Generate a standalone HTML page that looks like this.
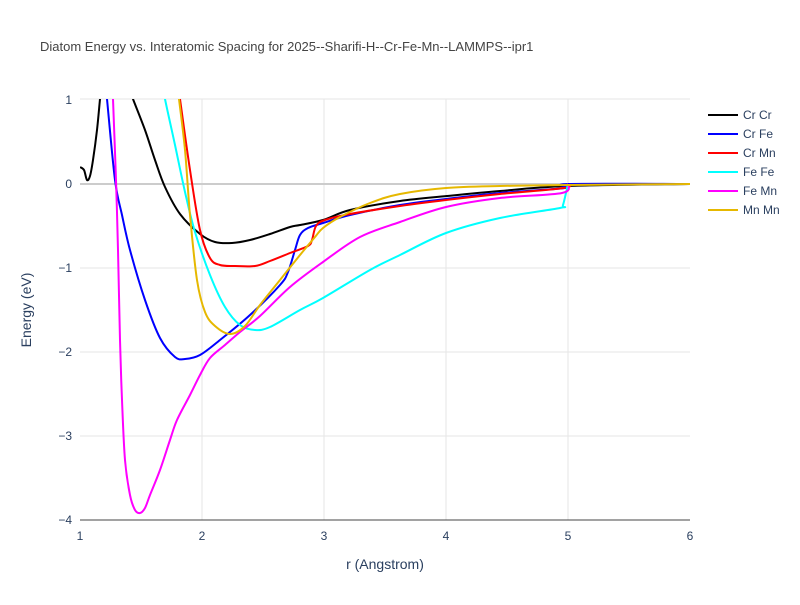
<!DOCTYPE html>
<html><head><meta charset="utf-8"><style>
body{margin:0;background:#fff;font-family:"Liberation Sans",sans-serif;}
svg text{font-family:"Liberation Sans",sans-serif;fill:#2a3f5f;}
</style></head><body>
<svg id="s" width="800" height="600" xmlns="http://www.w3.org/2000/svg">
<rect width="800" height="600" fill="#fff"/>
<text x="40" y="51" font-size="13" style="fill:#444">Diatom Energy vs. Interatomic Spacing for 2025--Sharifi-H--Cr-Fe-Mn--LAMMPS--ipr1</text>
<g stroke="#e5e5e5" stroke-width="1">
<line x1="202" y1="99" x2="202" y2="520"/><line x1="324" y1="99" x2="324" y2="520"/>
<line x1="446" y1="99" x2="446" y2="520"/><line x1="568" y1="99" x2="568" y2="520"/>
<line x1="80" y1="99" x2="690" y2="99"/><line x1="80" y1="268" x2="690" y2="268"/>
<line x1="80" y1="352" x2="690" y2="352"/><line x1="80" y1="436" x2="690" y2="436"/>
</g>
<line x1="80" y1="184" x2="690" y2="184" stroke="#ccc" stroke-width="2"/>
<line x1="80" y1="520" x2="690" y2="520" stroke="#444" stroke-width="1"/>
<defs><clipPath id="c"><rect x="80" y="99" width="610" height="421"/></clipPath></defs>
<g id="g" clip-path="url(#c)" fill="none" stroke-width="2" stroke-linejoin="round">
<polyline stroke="#000" points="80,167 84,170 87,180 90,176 93,160 97,130 100,99 101,90 130,90 133,99 145,130 155,160 165,187 180,214 200,234 215,242 232,243 250,240 270,234 290,227 300,225 323,220 350,210 400,201 447,196 500,191 567,186 690,184"/>
<polyline stroke="#0000ff" points="106,90 107,99 115,180 122,215 130,250 145,300 160,338 175,357 185,359 200,355 220,340 250,315 280,285 288,272 295,250 300,235 308,228 323,223 350,215 400,205 446,199 500,193 565,188 568,184 690,184"/>
<polyline stroke="#ff0000" points="179,90 180,99 190,170 200,230 210,258 220,265 235,266 255,266 270,261 290,253 308,246 312,240 316,226 325,220 350,214 400,206 446,200 500,194 564,188 568,184"/>
<polyline stroke="#00ffff" points="164,90 165,99 175,145 185,192 195,232 210,275 225,307 240,325 255,330 270,327 300,310 323,298 370,270 400,255 446,233 500,218 560,208 563,205 568,184"/>
<polyline stroke="#ff00ff" points="113,90 113,99 116,180 118,250 120,340 122,400 125,460 130,495 135,510 140,513 145,508 150,495 160,470 170,440 177,420 190,395 200,375 210,358 225,345 240,332 260,316 290,287 323,262 360,237 400,222 446,207 500,198 562,193 568,184"/>
<polyline stroke="#e6b800" points="178,90 179,99 185,150 190,215 197,280 205,312 215,326 230,334 245,326 260,305 280,280 300,255 315,237 323,228 340,217 370,203 400,194 446,188 500,186 567,185 690,184"/>
</g>
<g font-size="12" text-anchor="middle">
<text x="80" y="540">1</text><text x="202" y="540">2</text><text x="324" y="540">3</text>
<text x="446" y="540">4</text><text x="568" y="540">5</text><text x="690" y="540">6</text>
</g>
<g font-size="12" text-anchor="end">
<text x="72" y="104">1</text><text x="72" y="188">0</text><text x="72" y="272">−1</text>
<text x="72" y="356">−2</text><text x="72" y="440">−3</text><text x="72" y="524">−4</text>
</g>
<text x="385" y="569" font-size="14" text-anchor="middle">r (Angstrom)</text>
<text x="31" y="310" font-size="14" text-anchor="middle" transform="rotate(-90 31 310)">Energy (eV)</text>
<g font-size="12" stroke-width="2">
<line x1="708" y1="115" x2="738" y2="115" stroke="#000"/><text x="743" y="119">Cr Cr</text>
<line x1="708" y1="134" x2="738" y2="134" stroke="#0000ff"/><text x="743" y="138">Cr Fe</text>
<line x1="708" y1="153" x2="738" y2="153" stroke="#ff0000"/><text x="743" y="157">Cr Mn</text>
<line x1="708" y1="172" x2="738" y2="172" stroke="#00ffff"/><text x="743" y="176">Fe Fe</text>
<line x1="708" y1="191" x2="738" y2="191" stroke="#ff00ff"/><text x="743" y="195">Fe Mn</text>
<line x1="708" y1="210" x2="738" y2="210" stroke="#e6b800"/><text x="743" y="214">Mn Mn</text>
</g>
</svg>
<script>
document.querySelectorAll('#g polyline').forEach(function(pl){
  var p=pl.getAttribute('points').trim().split(/\s+/).map(function(s){return s.split(',').map(Number);});
  var d='M'+p[0][0]+','+p[0][1];
  for(var i=0;i<p.length-1;i++){
    var p0=p[i-1]||p[i],p1=p[i],p2=p[i+1],p3=p[i+2]||p2;
    var t=0.5/3;
    d+=' C'+(p1[0]+(p2[0]-p0[0])*t)+','+(p1[1]+(p2[1]-p0[1])*t)+' '+(p2[0]-(p3[0]-p1[0])*t)+','+(p2[1]-(p3[1]-p1[1])*t)+' '+p2[0]+','+p2[1];
  }
  var path=document.createElementNS('http://www.w3.org/2000/svg','path');
  path.setAttribute('d',d);path.setAttribute('stroke',pl.getAttribute('stroke'));
  pl.parentNode.replaceChild(path,pl);
});
</script>
</body></html>
